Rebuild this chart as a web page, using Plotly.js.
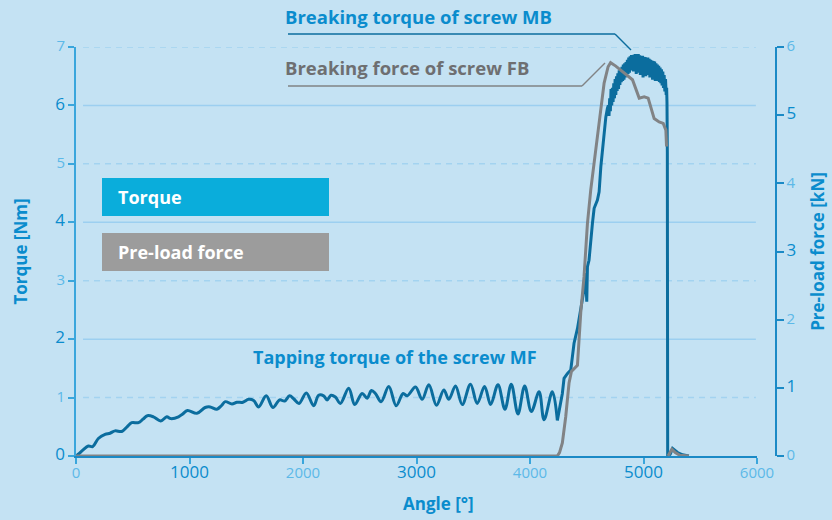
<!DOCTYPE html>
<html>
<head>
<meta charset="utf-8">
<script src="https://cdn.plot.ly/plotly-3.0.1.min.js"></script>
<style>html,body{margin:0;padding:0;background:#c4e2f3;}#chart{width:832px;height:520px;}</style>
</head>
<body>
<div id="chart"></div>
<script>
// ---- data ----
var torqueAngle = [0, 20, 60, 109, 147, 197, 256, 300, 344, 403, 450, 491, 550, 590, 629, 682, 747, 800, 835, 903, 940, 982, 1065, 1138, 1182, 1241, 1280, 1315, 1374, 1418, 1471, 1521, 1565, 1609, 1676, 1735, 1794, 1838, 1882, 1918, 1965, 2029, 2094, 2138, 2182, 2212, 2247, 2285, 2329, 2403, 2456, 2521, 2565, 2603, 2638, 2688, 2756, 2821, 2882, 2918, 2991, 3050, 3109, 3176, 3241, 3285, 3344, 3403, 3476, 3535, 3600, 3653, 3718, 3779, 3835, 3894, 3953, 4012, 4080, 4124, 4197, 4241,
  4285, 4300, 4329, 4359, 4388, 4418, 4447, 4476, 4491, 4500, 4506, 4520, 4550, 4565, 4594, 4609, 4624, 4638, 4653, 4668, 4682,
  4690, 4696, 4702, 4708, 4714, 4720, 4726, 4732, 4738, 4744, 4750, 4756, 4762, 4768, 4774, 4780, 4786, 4792, 4798, 4804, 4810, 4816, 4822, 4828, 4834, 4840, 4846, 4852, 4858, 4864, 4870, 4876, 4882, 4888, 4894, 4900, 4906, 4912, 4918, 4924, 4930, 4936, 4942, 4948, 4954, 4960, 4966, 4972, 4978, 4984, 4990, 4996, 5002, 5008, 5014, 5020, 5026, 5032, 5038, 5044, 5050, 5056, 5062, 5068, 5074, 5080, 5086, 5092, 5098, 5104, 5110, 5116, 5122, 5128, 5134, 5140, 5146, 5152, 5158, 5164, 5170, 5176, 5182, 5188, 5194, 5200, 5204, 5207, 5210, 5213,
  5235, 5256, 5280, 5300, 5344, 5400];
var torqueNm = [0, 0.03, 0.10, 0.17, 0.16, 0.30, 0.37, 0.39, 0.43, 0.42, 0.50, 0.57, 0.57, 0.63, 0.69, 0.67, 0.60, 0.67, 0.64, 0.67, 0.72, 0.78, 0.73, 0.83, 0.84, 0.80, 0.86, 0.93, 0.89, 0.92, 0.92, 0.97, 0.95, 0.84, 1.03, 0.83, 0.96, 0.94, 1.03, 0.98, 0.90, 1.08, 0.86, 1.04, 1.03, 0.96, 1.04, 1.01, 0.90, 1.16, 0.88, 1.07, 0.99, 1.12, 1.07, 0.93, 1.19, 0.86, 1.07, 1.03, 1.18, 0.97, 1.22, 0.87, 1.13, 0.97, 1.20, 0.88, 1.23, 0.90, 1.19, 0.88, 1.22, 0.80, 1.23, 0.72, 1.20, 0.76, 1.10, 0.62, 1.10, 0.61,
  1.07, 1.33, 1.41, 1.47, 1.93, 2.18, 2.50, 2.85, 3.13, 2.64, 3.24, 3.35, 3.98, 4.24, 4.38, 4.52, 4.95, 5.24, 5.52, 5.80, 5.95,
  6.00, 5.82, 6.12, 5.90, 6.28, 6.00, 6.30, 6.06, 6.38, 6.12, 6.45, 6.18, 6.50, 6.25, 6.55, 6.28, 6.60, 6.35, 6.64, 6.40, 6.66, 6.42, 6.70, 6.44, 6.72, 6.48, 6.74, 6.52, 6.78, 6.54, 6.82, 6.56, 6.84, 6.60, 6.86, 6.62, 6.86, 6.58, 6.87, 6.60, 6.88, 6.54, 6.87, 6.56, 6.88, 6.60, 6.86, 6.52, 6.85, 6.58, 6.85, 6.48, 6.83, 6.54, 6.83, 6.50, 6.82, 6.52, 6.82, 6.54, 6.80, 6.48, 6.78, 6.50, 6.77, 6.44, 6.76, 6.46, 6.75, 6.42, 6.72, 6.44, 6.70, 6.42, 6.68, 6.40, 6.65, 6.38, 6.62, 6.34, 6.58, 6.30, 6.52, 6.24, 6.45, 6.18, 6.30, 6.05, 5.20, 0.00,
  0.03, 0.13, 0.09, 0.06, 0.02, 0.00];

var forceAngle = [0, 4241, 4260, 4285, 4315, 4344, 4365, 4390, 4418, 4432, 4447, 4476, 4506, 4535, 4565, 4594, 4624, 4653, 4688, 4710, 4756, 4800, 4859, 4903, 4962, 5006, 5041, 5094, 5138, 5174, 5197, 5203, 5208, 5216, 5250, 5280, 5320, 5400];
var forceKN = [0, 0, 0.05, 0.19, 0.58, 1.07, 1.24, 1.29, 1.33, 1.70, 2.10, 2.63, 3.41, 3.90, 4.30, 4.73, 5.12, 5.47, 5.71, 5.77, 5.72, 5.66, 5.59, 5.52, 5.25, 5.27, 5.25, 4.95, 4.90, 4.88, 4.78, 4.54, null, 0, 0.10, 0.05, 0.01, 0];

var xTicks = [0, 1000, 2000, 3000, 4000, 5000, 6000];
var yLeftTicks = [0, 1, 2, 3, 4, 5, 6, 7];
var yRightTicks = [0, 1, 2, 3, 4, 5, 6];

// ---- styling ----
var DARK = '#0a8ccd', LIGHT = '#5cb9e8';
function lbl(v, strong) {
  return strong ? '<span style="font-size:17px;color:' + DARK + '">' + v + '</span>'
                : '<span style="font-size:15px;color:' + LIGHT + '">' + v + '</span>';
}
var xText = xTicks.map(function (v, i) { return lbl(v, i % 2 === 1); });
var ylText = yLeftTicks.map(function (v) { return lbl(v, v % 2 === 0); });
var yrText = yRightTicks.map(function (v) { return lbl(v, v % 2 === 1); });

var L = 76, R = 56, T = 47, B = 64, W = 832, H = 520;
var PW = W - L - R, PH = H - T - B;
function px(x) { return (x - L) / PW; }
function py(y) { return (H - B - y) / PH; }

// tapping phase drawn smooth, tightening/breaking phase drawn linear
var split = torqueAngle.indexOf(4241);
var traces = [
  { x: torqueAngle.slice(0, split + 1), y: torqueNm.slice(0, split + 1), type: 'scatter', mode: 'lines', name: 'Torque',
    line: { color: '#0b6d9e', width: 3, shape: 'spline', smoothing: 1 }, xaxis: 'x', yaxis: 'y', hoverinfo: 'skip' },
  { x: torqueAngle.slice(split), y: torqueNm.slice(split), type: 'scatter', mode: 'lines', name: 'Torque',
    line: { color: '#0b6d9e', width: 3 }, xaxis: 'x', yaxis: 'y', hoverinfo: 'skip' },
  { x: forceAngle, y: forceKN, type: 'scatter', mode: 'lines', name: 'Pre-load force',
    line: { color: '#818385', width: 3 }, xaxis: 'x', yaxis: 'y2', connectgaps: false, hoverinfo: 'skip' }
];

var shapes = [];
[1, 2, 3, 4, 5, 6, 7].forEach(function (v) {
  shapes.push({ type: 'line', xref: 'x', yref: 'y', x0: 62, x1: 5990, y0: v, y1: v, layer: 'below',
    line: { color: v % 2 === 0 ? '#9ccff0' : '#a3d3f0', width: 1.5, dash: v % 2 === 0 ? 'solid' : '6px,5px' } });
});
// legend-like boxes
shapes.push({ type: 'rect', xref: 'paper', yref: 'paper', x0: px(102), x1: px(329), y0: py(216), y1: py(178),
  fillcolor: '#0aaddb', line: { width: 0 } });
shapes.push({ type: 'rect', xref: 'paper', yref: 'paper', x0: px(102), x1: px(329), y0: py(271), y1: py(233),
  fillcolor: '#9c9c9c', line: { width: 0 } });
// callout lines
shapes.push({ type: 'line', xref: 'paper', yref: 'paper', x0: px(288), x1: px(615), y0: py(34), y1: py(34), line: { color: '#0b6d9e', width: 1.5 } });
shapes.push({ type: 'line', xref: 'paper', yref: 'paper', x0: px(615), x1: px(631), y0: py(34), y1: py(50), line: { color: '#0b6d9e', width: 1.5 } });
shapes.push({ type: 'line', xref: 'paper', yref: 'paper', x0: px(288), x1: px(582), y0: py(86), y1: py(86), line: { color: '#818385', width: 1.5 } });
shapes.push({ type: 'line', xref: 'paper', yref: 'paper', x0: px(582), x1: px(605), y0: py(86), y1: py(63), line: { color: '#818385', width: 1.5 } });

var FONT = 'Open Sans, Noto Sans, sans-serif';
var annotations = [
  { text: '<b>Breaking torque of screw MB</b>', xref: 'paper', yref: 'paper', x: px(283), y: py(17), xanchor: 'left', yanchor: 'middle', showarrow: false, font: { family: FONT, size: 18.5, color: '#0a8ccd' } },
  { text: '<b>Breaking force of screw FB</b>', xref: 'paper', yref: 'paper', x: px(283), y: py(67), xanchor: 'left', yanchor: 'middle', showarrow: false, font: { family: FONT, size: 18.5, color: '#6e6f71' } },
  { text: '<b>Tapping torque of the screw MF</b>', xref: 'paper', yref: 'paper', x: px(251), y: py(357), xanchor: 'left', yanchor: 'middle', showarrow: false, font: { family: FONT, size: 18, color: '#0a8ccd' } },
  { text: '<b>Torque</b>', xref: 'paper', yref: 'paper', x: px(116), y: py(197), xanchor: 'left', yanchor: 'middle', showarrow: false, font: { family: FONT, size: 18, color: '#ffffff' } },
  { text: '<b>Pre-load force</b>', xref: 'paper', yref: 'paper', x: px(116), y: py(252), xanchor: 'left', yanchor: 'middle', showarrow: false, font: { family: FONT, size: 18, color: '#ffffff' } },
  { text: '<b>Angle [°]</b>', xref: 'paper', yref: 'paper', x: px(438), y: py(503), xanchor: 'center', yanchor: 'middle', showarrow: false, font: { family: FONT, size: 17, color: '#0a8ccd' } }
];

var layout = {
  width: W, height: H,
  margin: { l: L, r: R, t: T, b: B, pad: 0 },
  paper_bgcolor: '#c4e2f3', plot_bgcolor: '#c4e2f3',
  font: { family: FONT, color: DARK },
  showlegend: false,
  xaxis: {
    domain: [0, 681 / 700], range: [0, 6000], fixedrange: true,
    tickvals: xTicks, ticktext: xText, ticks: 'outside', ticklen: 6, tickwidth: 2, tickcolor: '#3aa6dc',
    showline: true, linecolor: '#1b8ac6', linewidth: 2, showgrid: false, zeroline: false
  },
  yaxis: {
    range: [0, 7], fixedrange: true,
    tickvals: yLeftTicks, ticktext: ylText, ticks: 'outside', ticklen: 6, tickwidth: 2, tickcolor: '#3aa6dc',
    showline: true, linecolor: '#3aa6dc', linewidth: 2.5, showgrid: false, zeroline: false,
    title: { text: '<b>Torque [Nm]</b>', font: { family: FONT, size: 17, color: '#0a8ccd' }, standoff: 24 }
  },
  yaxis2: {
    range: [0, 6], overlaying: 'y', side: 'right', anchor: 'free', position: 1, fixedrange: true,
    tickvals: yRightTicks, ticktext: yrText, ticks: 'outside', ticklen: 7, tickwidth: 2, tickcolor: '#1b8ac6',
    showline: true, linecolor: '#1b8ac6', linewidth: 2, showgrid: false, zeroline: false,
    title: { text: '<b>Pre-load force [kN]</b>', font: { family: FONT, size: 17, color: '#0a8ccd' }, standoff: 16 }
  },
  shapes: shapes,
  annotations: annotations
};

Plotly.newPlot('chart', traces, layout, { staticPlot: true, displayModeBar: false });
</script>
</body>
</html>
